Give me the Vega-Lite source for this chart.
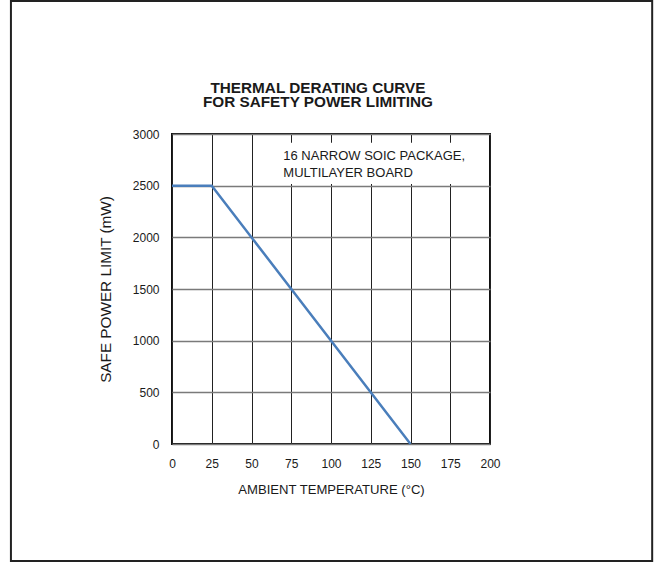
{
  "$schema": "https://vega.github.io/schema/vega-lite/v6.json",
  "width": 318,
  "height": 310,
  "autosize": "none",
  "padding": {"left": 172, "top": 134, "right": 164, "bottom": 118},
  "background": "white",
  "config": {
    "view": {"stroke": "#111111", "strokeWidth": 2},
    "font": "Liberation Sans, Arial"
  },
  "data": {"values": [
    {"temp": 0, "power": 2500},
    {"temp": 25, "power": 2500},
    {"temp": 150, "power": 0}
  ]},
  "layer": [
    {
      "mark": {"type": "line", "color": "#4a7ebb", "strokeWidth": 2.5},
      "encoding": {
        "x": {
          "field": "temp", "type": "quantitative",
          "scale": {"domain": [0, 200], "nice": false, "zero": false},
          "axis": {
            "title": "AMBIENT TEMPERATURE (°C)",
            "values": [0, 25, 50, 75, 100, 125, 150, 175, 200],
            "format": "d",
            "grid": true, "gridColor": "#222222", "gridWidth": 1, "gridOpacity": 1,
            "domain": false, "ticks": false,
            "labelFontSize": 12, "labelColor": "#1a1a1a", "labelPadding": 14,
            "labelFlush": false, "labelOverlap": false,
            "titleFontSize": 13.1, "titleFontWeight": "normal", "titleColor": "#1a1a1a",
            "titlePadding": 14
          }
        },
        "y": {
          "field": "power", "type": "quantitative",
          "scale": {"domain": [0, 3000], "nice": false, "zero": false},
          "axis": {
            "title": "SAFE POWER LIMIT (mW)",
            "values": [0, 500, 1000, 1500, 2000, 2500, 3000],
            "format": "d",
            "grid": true, "gridColor": "#7a7a7a", "gridWidth": 1.5, "gridOpacity": 1,
            "domain": false, "ticks": false,
            "labelFontSize": 12, "labelColor": "#1a1a1a", "labelPadding": 13,
            "labelFlush": false, "labelOverlap": false,
            "titleFontSize": 15.3, "titleFontWeight": "normal", "titleColor": "#1a1a1a",
            "titlePadding": 19
          }
        }
      }
    },
    {
      "data": {"values": [{}]},
      "mark": {"type": "rect", "fill": "white", "stroke": null},
      "encoding": {
        "x": {"datum": 56, "type": "quantitative",
          "axis": {
            "title": "AMBIENT TEMPERATURE (°C)",
            "values": [0, 25, 50, 75, 100, 125, 150, 175, 200],
            "format": "d",
            "grid": true, "gridColor": "#222222", "gridWidth": 1, "gridOpacity": 1,
            "domain": false, "ticks": false,
            "labelFontSize": 12, "labelColor": "#1a1a1a", "labelPadding": 14,
            "labelFlush": false, "labelOverlap": false,
            "titleFontSize": 13.1, "titleFontWeight": "normal", "titleColor": "#1a1a1a",
            "titlePadding": 14
          }},
        "x2": {"datum": 199},
        "y": {"datum": 2915, "type": "quantitative",
          "axis": {
            "title": "SAFE POWER LIMIT (mW)",
            "values": [0, 500, 1000, 1500, 2000, 2500, 3000],
            "format": "d",
            "grid": true, "gridColor": "#7a7a7a", "gridWidth": 1.5, "gridOpacity": 1,
            "domain": false, "ticks": false,
            "labelFontSize": 12, "labelColor": "#1a1a1a", "labelPadding": 13,
            "labelFlush": false, "labelOverlap": false,
            "titleFontSize": 15.3, "titleFontWeight": "normal", "titleColor": "#1a1a1a",
            "titlePadding": 19
          }},
        "y2": {"datum": 2515}
      }
    },
    {
      "data": {"values": [{}]},
      "mark": {
        "type": "text",
        "text": ["16 NARROW SOIC PACKAGE,", "MULTILAYER BOARD"],
        "align": "left", "baseline": "alphabetic", "lineHeight": 17,
        "fontSize": 13, "color": "#1a1a1a"
      },
      "encoding": {
        "x": {"datum": 70, "type": "quantitative",
          "axis": {
            "title": "AMBIENT TEMPERATURE (°C)",
            "values": [0, 25, 50, 75, 100, 125, 150, 175, 200],
            "format": "d",
            "grid": true, "gridColor": "#222222", "gridWidth": 1, "gridOpacity": 1,
            "domain": false, "ticks": false,
            "labelFontSize": 12, "labelColor": "#1a1a1a", "labelPadding": 14,
            "labelFlush": false, "labelOverlap": false,
            "titleFontSize": 13.1, "titleFontWeight": "normal", "titleColor": "#1a1a1a",
            "titlePadding": 14
          }},
        "y": {"datum": 2748, "type": "quantitative",
          "axis": {
            "title": "SAFE POWER LIMIT (mW)",
            "values": [0, 500, 1000, 1500, 2000, 2500, 3000],
            "format": "d",
            "grid": true, "gridColor": "#7a7a7a", "gridWidth": 1.5, "gridOpacity": 1,
            "domain": false, "ticks": false,
            "labelFontSize": 12, "labelColor": "#1a1a1a", "labelPadding": 13,
            "labelFlush": false, "labelOverlap": false,
            "titleFontSize": 15.3, "titleFontWeight": "normal", "titleColor": "#1a1a1a",
            "titlePadding": 19
          }}
      }
    },
    {
      "data": {"values": [{}]},
      "mark": {
        "type": "text",
        "text": ["THERMAL DERATING CURVE", "FOR SAFETY POWER LIMITING"],
        "align": "center", "baseline": "alphabetic", "lineHeight": 14,
        "fontSize": 15.3, "fontWeight": "bold", "color": "#1a1a1a", "clip": false
      },
      "encoding": {
        "x": {"datum": 91.8, "type": "quantitative",
          "axis": {
            "title": "AMBIENT TEMPERATURE (°C)",
            "values": [0, 25, 50, 75, 100, 125, 150, 175, 200],
            "format": "d",
            "grid": true, "gridColor": "#222222", "gridWidth": 1, "gridOpacity": 1,
            "domain": false, "ticks": false,
            "labelFontSize": 12, "labelColor": "#1a1a1a", "labelPadding": 14,
            "labelFlush": false, "labelOverlap": false,
            "titleFontSize": 13.1, "titleFontWeight": "normal", "titleColor": "#1a1a1a",
            "titlePadding": 14
          }},
        "y": {"datum": 3394, "type": "quantitative",
          "axis": {
            "title": "SAFE POWER LIMIT (mW)",
            "values": [0, 500, 1000, 1500, 2000, 2500, 3000],
            "format": "d",
            "grid": true, "gridColor": "#7a7a7a", "gridWidth": 1.5, "gridOpacity": 1,
            "domain": false, "ticks": false,
            "labelFontSize": 12, "labelColor": "#1a1a1a", "labelPadding": 13,
            "labelFlush": false, "labelOverlap": false,
            "titleFontSize": 15.3, "titleFontWeight": "normal", "titleColor": "#1a1a1a",
            "titlePadding": 19
          }}
      }
    },
    {
      "data": {"values": [{}]},
      "mark": {"type": "rect", "filled": false, "stroke": "#222222", "strokeWidth": 2, "clip": false},
      "encoding": {
        "x": {"datum": -101.3, "type": "quantitative",
          "axis": {
            "title": "AMBIENT TEMPERATURE (°C)",
            "values": [0, 25, 50, 75, 100, 125, 150, 175, 200],
            "format": "d",
            "grid": true, "gridColor": "#222222", "gridWidth": 1, "gridOpacity": 1,
            "domain": false, "ticks": false,
            "labelFontSize": 12, "labelColor": "#1a1a1a", "labelPadding": 14,
            "labelFlush": false, "labelOverlap": false,
            "titleFontSize": 13.1, "titleFontWeight": "normal", "titleColor": "#1a1a1a",
            "titlePadding": 14
          }},
        "x2": {"datum": 302},
        "y": {"datum": 4287, "type": "quantitative",
          "axis": {
            "title": "SAFE POWER LIMIT (mW)",
            "values": [0, 500, 1000, 1500, 2000, 2500, 3000],
            "format": "d",
            "grid": true, "gridColor": "#7a7a7a", "gridWidth": 1.5, "gridOpacity": 1,
            "domain": false, "ticks": false,
            "labelFontSize": 12, "labelColor": "#1a1a1a", "labelPadding": 13,
            "labelFlush": false, "labelOverlap": false,
            "titleFontSize": 15.3, "titleFontWeight": "normal", "titleColor": "#1a1a1a",
            "titlePadding": 19
          }},
        "y2": {"datum": -1132}
      }
    }
  ]
}
